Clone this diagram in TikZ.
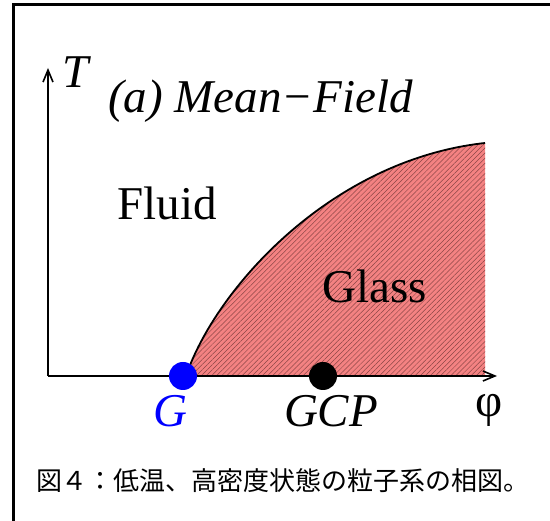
\documentclass[tikz,border=0pt]{standalone}
\usepackage{fontspec}
\setmainfont{Liberation Serif}
\newfontfamily\jpfont{Noto Sans CJK JP}
\usepackage{tikz}
\usetikzlibrary{arrows.meta,patterns.meta}
\definecolor{glassred}{RGB}{244,130,130}
\definecolor{hatchdark}{RGB}{140,70,70}
\newcommand{\bigfont}{\fontsize{47}{52}\selectfont}

\begin{document}
\begin{tikzpicture}[>={Straight Barb[length=12pt,width=10pt]}, x=1pt, y=-1pt,
    axis/.style={line width=1.6pt, ->},
    lbl/.style={font=\bigfont, inner sep=0pt}]
  \useasboundingbox (0,0) rectangle (550,521);
  % ---------------------------------------------------------------- frame round the figure
  \draw[line width=3pt] (13,521) -- (13,5) -- (550,5);
  % ---------------------------------------------------------------- the glass region, hatched
  \coordinate (g) at (183,376);
  \coordinate (gcp) at (323,376);
  \coordinate (top) at (485,143);
  \fill[glassred] (186,376) .. controls (215,290) and (330,160) .. (top) -- (485,376) -- cycle;
  \fill[pattern={Lines[angle=45,distance=3.6pt,line width=0.5pt]}, pattern color=hatchdark]
    (186,376) .. controls (215,290) and (330,160) .. (top) -- (485,376) -- cycle;
  \draw[line width=1.8pt] (186,376) .. controls (215,290) and (330,160) .. (top);
  % ---------------------------------------------------------------- axes
  \coordinate (o) at (48,376);
  \coordinate (tend) at (48,68);
  \coordinate (pend) at (497,376);
  \draw[axis] (o) -- (tend);
  \draw[axis] (o) -- (pend);
  \node[lbl, anchor=base west] (tlbl) at (62,88) {\textit{T}};
  \node[lbl, anchor=center] (phi) at (489,410) {φ};
  % ---------------------------------------------------------------- the two points on the axis
  \fill[blue] (g) circle (14);
  \fill[black] (gcp) circle (14);
  \node[lbl, anchor=base, text=blue] (glbl) at (170,427) {\textit{G}};
  \node[lbl, anchor=base] (gcplbl) at (331,427) {\textit{GCP}};
  % ---------------------------------------------------------------- titles of the regions
  \node[lbl, anchor=base west] (title) at (108,113) {\textit{(a) Mean−Field}};
  \node[lbl, anchor=base] (fluid) at (167,220) {Fluid};
  \node[lbl, anchor=base] (glass) at (375,303) {Glass};
  % ---------------------------------------------------------------- caption
  \node[font=\jpfont\fontsize{26}{30}\selectfont, inner sep=0pt] (cap) at (283,481) {図４：低温、高密度状態の粒子系の相図。};
\end{tikzpicture}
\end{document}
